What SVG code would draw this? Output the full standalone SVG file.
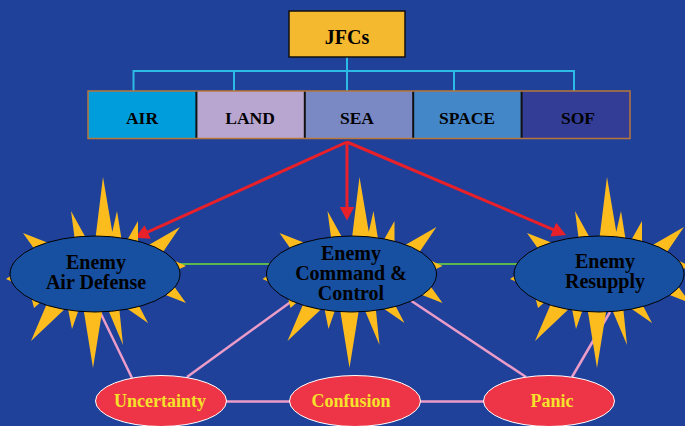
<svg xmlns="http://www.w3.org/2000/svg" xmlns:xlink="http://www.w3.org/1999/xlink" width="685" height="426" viewBox="0 0 685 426">
  <style>
    .t { font-family: "Liberation Serif", "Times New Roman", serif; font-weight: bold; text-anchor: middle; }
    .cmd { fill: #000; font-size: 17.5px; }
    .burst-t { fill: #000; font-size: 20px; }
    .eff-t { fill: #f7e22a; font-size: 18px; }
    .tree { stroke: #2cbbe6; stroke-width: 2; fill: none; }
    .strike { stroke: #e8202a; stroke-width: 3; fill: none; marker-end: url(#arrow); }
    .link { stroke: #5cb84e; stroke-width: 2; }
    .effect { stroke: #eb9cc8; stroke-width: 2.5; }
    .target { fill: #1750a0; stroke: #000; stroke-width: 1; }
    .effect-node { fill: #ee3547; stroke: #fff; stroke-width: 1; }
  </style>
  <defs>
    <marker id="arrow" viewBox="0 0 14 15" markerWidth="14" markerHeight="15" refX="2" refY="7.5" orient="auto" markerUnits="userSpaceOnUse">
      <path d="M0,0 L14,7.5 L0,15 Z" fill="#e8202a"/>
    </marker>
    <!-- explosion spikes around a target ellipse, centred at 0,0 -->
    <path id="burst" fill="#fcbc1e" d="
      M8,-97 L0,-32 L19,-32 Z
      M22,-63 L15,-32 L27,-32 Z
      M43,-53 L30,-30 L43,-30 Z
      M85,-47 L52,-28 L68,-22 Z
      M91,-8 L78,-14 L78,-2 Z
      M91,29 L76,8 L63,18 Z
      M53,49 L42,28 L27,31 Z
      M28,71 L24,32 L12,33 Z
      M-2,94 L8,32 L-12,32 Z
      M-23,55 L-15,32 L-28,30 Z
      M-64,67 L-27,32 L-47,27 Z
      M-61,34 L-52,26 L-64,22 Z
      M-89,5 L-80,9 L-80,-1 Z
      M-72,-41 L-60,-24 L-44,-30 Z
      M-24,-63 L-20,-33 L-8,-34 Z"/>
  </defs>

  <rect width="685" height="426" fill="#20419a"/>

  <g id="connectors">
    <!-- command tree -->
    <path class="tree" d="M347,57 V71 M133.5,71 H574 M133.5,70 V91 M234,70 V91 M347,70 V91 M454,70 V91 M574,70 V91"/>
    <!-- links between targets -->
    <line class="link" x1="180" y1="264" x2="518" y2="264"/>
    <!-- effects -->
    <line class="effect" x1="100" y1="312" x2="132" y2="378"/>
    <line class="effect" x1="292" y1="301" x2="187" y2="377"/>
    <line class="effect" x1="410" y1="300" x2="526" y2="377"/>
    <line class="effect" x1="610" y1="312" x2="572" y2="377"/>
    <line class="effect" x1="226" y1="401.5" x2="290" y2="401.5"/>
    <line class="effect" x1="420" y1="401.5" x2="484" y2="401.5"/>
    <!-- strikes -->
    <line class="strike" x1="347" y1="142" x2="145.9" y2="232.8"/>
    <line class="strike" x1="347" y1="142" x2="347" y2="208.5"/>
    <line class="strike" x1="347" y1="142" x2="555" y2="230.3"/>
  </g>

  <g id="jfcs">
    <rect x="289" y="11" width="116" height="46" fill="#f4b92e" stroke="#111" stroke-width="1.5"/>
    <text class="t" x="347" y="44" font-size="20" fill="#000">JFCs</text>
  </g>

  <g id="components">
    <g id="air">
      <rect x="88" y="91" width="108.4" height="47.5" fill="#009ddc"/>
      <text class="t cmd" x="142" y="124">AIR</text>
    </g>
    <g id="land">
      <rect x="196.4" y="91" width="108.4" height="47.5" fill="#b8a6d0"/>
      <text class="t cmd" x="250" y="124">LAND</text>
    </g>
    <g id="sea">
      <rect x="304.8" y="91" width="108.4" height="47.5" fill="#7a89c4"/>
      <text class="t cmd" x="357" y="124">SEA</text>
    </g>
    <g id="space">
      <rect x="413.2" y="91" width="108.4" height="47.5" fill="#4487c8"/>
      <text class="t cmd" x="467" y="124">SPACE</text>
    </g>
    <g id="sof">
      <rect x="521.6" y="91" width="108.4" height="47.5" fill="#333d96"/>
      <text class="t cmd" x="578" y="124">SOF</text>
    </g>
    <path d="M196.4,91 V138.5 M304.8,91 V138.5 M413.2,91 V138.5 M521.6,91 V138.5" stroke="#111" stroke-width="2"/>
    <rect x="88" y="91" width="542" height="47.5" fill="none" stroke="#b8763a" stroke-width="1.5"/>
  </g>

  <g id="air-defense">
    <use xlink:href="#burst" href="#burst" x="95" y="274"/>
    <ellipse class="target" cx="95" cy="274" rx="85" ry="38"/>
    <text class="t burst-t" x="96" y="269">Enemy</text>
    <text class="t burst-t" x="96" y="289">Air Defense</text>
  </g>

  <g id="command-control">
    <use xlink:href="#burst" href="#burst" x="351.5" y="274"/>
    <ellipse class="target" cx="351.5" cy="274" rx="85" ry="38"/>
    <text class="t burst-t" x="351" y="260">Enemy</text>
    <text class="t burst-t" x="351" y="280">Command &amp;</text>
    <text class="t burst-t" x="351" y="300">Control</text>
  </g>

  <g id="resupply">
    <use xlink:href="#burst" href="#burst" x="599" y="274"/>
    <ellipse class="target" cx="599" cy="274" rx="85" ry="38"/>
    <text class="t burst-t" x="605" y="268">Enemy</text>
    <text class="t burst-t" x="605" y="288">Resupply</text>
  </g>

  <g id="uncertainty">
    <ellipse class="effect-node" cx="161" cy="401" rx="65.5" ry="25.5"/>
    <text class="t eff-t" x="160" y="407">Uncertainty</text>
  </g>
  <g id="confusion">
    <ellipse class="effect-node" cx="355" cy="401" rx="65.5" ry="25.5"/>
    <text class="t eff-t" x="351" y="407">Confusion</text>
  </g>
  <g id="panic">
    <ellipse class="effect-node" cx="549" cy="401" rx="65.5" ry="25.5"/>
    <text class="t eff-t" x="552" y="407">Panic</text>
  </g>
</svg>
